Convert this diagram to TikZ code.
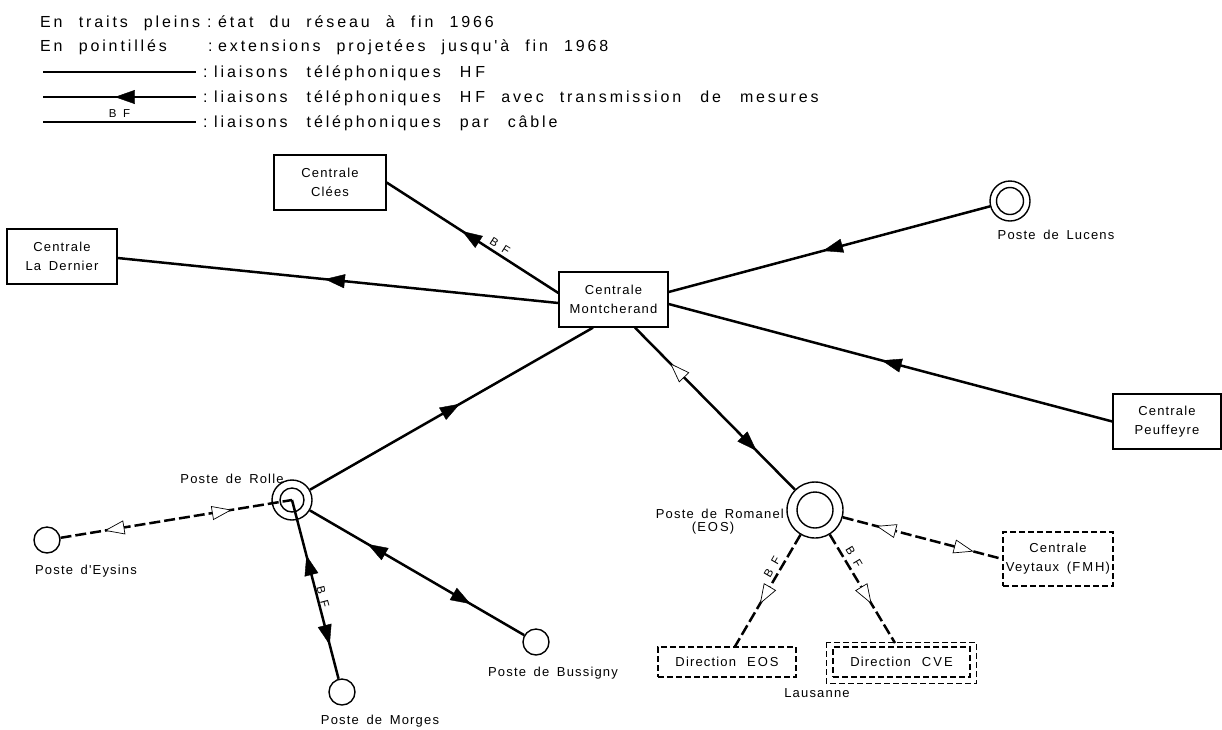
\documentclass[tikz,border=0pt]{standalone}
\usepackage{fontspec}
\setmainfont{Liberation Sans}
\newfontfamily\labfont{Liberation Sans}[LetterSpace=9,WordSpace=1.6]
\newfontfamily\legfont{Liberation Sans}[LetterSpace=18,WordSpace=2.2]
\usetikzlibrary{arrows.meta,decorations.markings}
\newcommand{\wgap}{\hspace{11pt}}
\newcommand{\Wgap}{\hspace{19pt}}
\newcommand{\lgap}{\hspace{2pt}}
\newcommand{\Lgap}{\hspace{4pt}}
\tikzset{
  tipF/.tip={Triangle[length=20pt,width=14pt,line width=0.4pt]},
  tipO/.tip={Triangle[length=20pt,width=14pt,fill=white,line width=0.7pt]},
  lab/.style={font=\labfont\fontsize{13}{19}\selectfont, inner sep=0pt},
  leg/.style={font=\legfont\fontsize{16}{18}\selectfont, inner sep=0pt, anchor=base west},
  bf/.style={font=\labfont\fontsize{11.5}{12}\selectfont, inner sep=0pt},
  box/.style={draw, line width=1.3pt, minimum height=55pt, inner sep=0pt, align=center, lab},
  dbox/.style={box, line width=1.2pt, dash pattern=on 6pt off 3pt},
  stn/.style={circle, draw, line width=1.4pt, inner sep=0pt, minimum size=26pt},
  link/.style={line width=2.5pt},
  plan/.style={line width=2.5pt, dash pattern=on 11pt off 4pt},
  aF/.style={postaction={decorate,decoration={markings,mark=at position #1 with {\arrow{tipF}}}}},
  rF/.style={postaction={decorate,decoration={markings,mark=at position #1 with {\arrowreversed{tipF}}}}},
  aO/.style={postaction={decorate,decoration={markings,mark=at position #1 with {\arrow{tipO}}}}},
  rO/.style={postaction={decorate,decoration={markings,mark=at position #1 with {\arrowreversed{tipO}}}}},
}
\begin{document}
\begin{tikzpicture}[x=1pt,y=-1pt]
\useasboundingbox[fill=white] (0,0) rectangle (1222,729);

% ---------- legend ----------
\node[leg] (t1) at (40,27) {En traits pleins};
\node[leg] (c1) at (207,27) {:};
\node[leg] (d1) at (218,27) {état du réseau à fin 1966};
\node[leg] (t2) at (40,51) {En pointillés};
\node[leg] (c2) at (208,51) {:};
\node[leg] (d2) at (218,51) {extensions projetées jusqu'à fin 1968};
\coordinate (l3a) at (43,72); \coordinate (l3b) at (196,72);
\coordinate (l4a) at (43,97); \coordinate (l4b) at (196,97);
\coordinate (l5a) at (43,122); \coordinate (l5b) at (196,122);
\draw[link] (l3a) -- (l3b);
\draw[link, rF=0.47] (l4a) -- (l4b);
\draw[link] (l5a) -- node[bf, above=3pt] (bfl) {B F} (l5b);
\node[leg] (c3) at (203,77.5) {:};
\node[leg] (d3) at (214,77.5) {liaisons\Wgap téléphoniques\Wgap H\Lgap F};
\node[leg] (c4) at (203,102.5) {:};
\node[leg] (d4) at (214,102.5) {liaisons\Wgap téléphoniques\Wgap H\Lgap F avec transmission\Wgap de\Wgap mesures};
\node[leg] (c5) at (203,127.5) {:};
\node[leg] (d5) at (214,127.5) {liaisons\Wgap téléphoniques\Wgap par\Wgap câble};

% ---------- boxes ----------
\node[box, minimum width=112pt] (clees) at (330,182.5) {Centrale\\Clées};
\node[box, minimum width=110pt] (dernier) at (62,256.5) {Centrale\\La Dernier};
\node[box, minimum width=109pt] (mont) at (613.5,299.5) {Centrale\\Montcherand};
\node[box, minimum width=108pt] (peuf) at (1167,421.5) {Centrale\\Peuffeyre};
\node[dbox, minimum width=110pt, minimum height=54pt] (vey) at (1058,559) {Centrale\\Veytaux (F\lgap M\lgap H)};
\node[dbox, minimum width=138pt, minimum height=30pt] (eos) at (727,662) {Direction\wgap E\lgap O\lgap S};
\node[dbox, minimum width=137pt, minimum height=30pt] (cve) at (901.5,662) {Direction\wgap C\lgap V\lgap E};
\draw[line width=1.2pt, dash pattern=on 6pt off 3pt] ([shift={(-6pt,4pt)}]cve.north west) rectangle ([shift={(6pt,-6pt)}]cve.south east);
\coordinate (cvetop) at (895,643);

% ---------- stations ----------
\node[stn] (eysins) at (47,540) {};
\node[stn] (morges) at (342,692) {};
\node[stn] (bussigny) at (536,642) {};
\node[stn, minimum size=40pt] (rolle) at (292,500) {};
\node[stn, minimum size=24pt] (rollei) at (292,500) {};
\node[stn, minimum size=40pt] (lucens) at (1010,201) {};
\node[stn, minimum size=27pt] (lucensi) at (1010,201) {};
\node[stn, minimum size=56pt] (romanel) at (815,510) {};
\node[stn, minimum size=36pt] (romaneli) at (815,510) {};

% ---------- labels ----------
\node[lab] (lLucens) at (1056,235) {Poste de Lucens};
\node[lab] (lRolle) at (232,479) {Poste de Rolle};
\node[lab] (lEysins) at (86,571) {Poste d'Eysins};
\node[lab] (lMorges) at (380,721) {Poste de Morges};
\node[lab] (lBuss) at (553,673) {Poste de Bussigny};
\node[lab, anchor=east] (lRom) at (784,514) {Poste de Romanel};
\node[lab] (lEOS) at (713,528) {(E\lgap O\lgap S)};
\node[lab] (lLaus) at (817,693) {Lausanne};

% ---------- connectors ----------
\draw[link, aF=0.56] ([yshift=6.5pt]mont.west) -- (clees.east);
\draw[link, aF=0.53] ([yshift=-3.5pt]mont.west) -- ([yshift=-1.5pt]dernier.east);
\draw[link, aF=0.52] (lucens) -- ([yshift=7.5pt]mont.east);
\draw[link, aF=0.52] (peuf.west) -- ([yshift=-4.5pt]mont.east);
\draw[link, aF=0.53] (rolle) -- ([xshift=-20.5pt]mont.south);
\draw[link, rF=0.27, aF=0.75] (rolle) -- (bussigny);
\draw[link, rF=0.31, aF=0.81] (rolle.center) -- (morges);
\draw[plan, rO=0.19, aO=0.74] (eysins) -- (rolle.center);
\draw[link, rO=0.22, aF=0.76] ([xshift=21.5pt]mont.south) -- (romanel);
\draw[plan, rO=0.21, aO=0.82] (romanel) -- (vey.west);
\draw[plan, aO=0.62] (romanel) -- ([xshift=8pt]eos.north);
\draw[plan, aO=0.64] (romanel) -- (cvetop);

% ---------- BF labels ----------
\node[bf, rotate=-32.6] (bf1) at (500,246) {B F};
\node[bf, rotate=-75] (bf2) at (323,597) {B F};
\node[bf, rotate=60] (bf3) at (772,567) {B F};
\node[bf, rotate=-59] (bf4) at (854,557) {B F};
\end{tikzpicture}
\end{document}
